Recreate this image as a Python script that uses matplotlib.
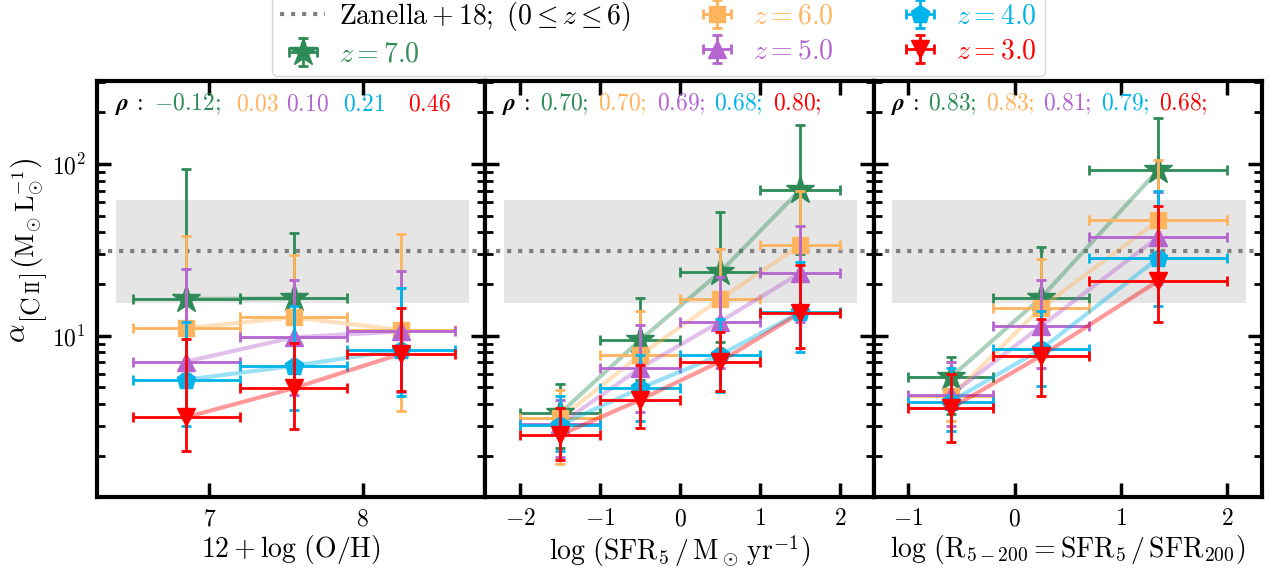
import numpy as np
import matplotlib
matplotlib.use("Agg")
import matplotlib.pyplot as plt
from matplotlib.ticker import LogLocator, NullFormatter, FixedLocator, NullLocator
from matplotlib.lines import Line2D
from matplotlib.transforms import IdentityTransform

plt.rcParams.update({
    'mathtext.fontset': 'cm',
    'font.family': 'serif',
    'font.serif': ['cmr10'],
    'axes.formatter.use_mathtext': True,
    'axes.unicode_minus': True,
})

# ---------------- data ----------------
redshifts = ['7.0', '6.0', '5.0', '4.0', '3.0']
colors = ['#2e8b57', '#ffb35c', '#b565d0', '#00b4ea', '#ff0000']
markers = ['*', 's', '^', 'p', 'v']
msizes = [21, 11.5, 13.5, 13.5, 13.5]

zanella_alpha = 31.0
zanella_dex = 0.3

# Panel 1: 12+log(O/H)
oh_x = [6.85, 7.55, 8.25]
oh_xerr = [0.35, 0.35, 0.35]
oh_y = [[16.4, 16.5], [11.1, 12.8, 10.8], [7.08, 9.8, 10.6], [5.55, 6.68, 8.29], [3.36, 4.95, 7.85]]
oh_hi = [[94.0, 39.6], [37.9, 29.5, 39.3], [24.4, 21.2, 23.7], [12.1, 15.0, 19.0], [9.6, 9.1, 14.5]]
oh_lo = [[6.0, 6.5], [3.76, 5.5, 3.67], [3.3, 4.5, 4.7], [2.97, 3.7, 4.43], [2.12, 2.87, 4.74]]
oh_rho = [r'$-0.12;$', r'$0.03$', r'$0.10$', r'$0.21$', r'$0.46$']

# Panel 2: log SFR5
sfr_x = [-1.5, -0.5, 0.5, 1.5]
sfr_xerr = [0.5, 0.5, 0.5, 0.5]
sfr_y = [[3.55, 9.48, 23.5, 70.8], [3.31, 7.74, 16.4, 33.6], [3.07, 6.49, 12.1, 23.2], [3.03, 4.95, 7.74, 13.7], [2.65, 4.24, 7.08, 13.6]]
sfr_hi = [[5.25, 16.7, 52.5, 168.0], [4.85, 13.9, 32.1, 70.0], [4.24, 11.5, 22.0, 43.4], [4.43, 7.7, 12.5, 26.8], [3.8, 6.8, 10.5, 26.0]]
sfr_lo = [[2.23, 5.5, 9.2, 30.0], [1.8, 4.2, 8.5, 15.0], [1.98, 3.6, 6.5, 12.0], [2.12, 3.21, 4.7, 8.0], [1.9, 2.9, 4.8, 8.47]]
sfr_rho = [r'$0.70;$', r'$0.70;$', r'$0.69;$', r'$0.68;$', r'$0.80;$']

# Panel 3: log R5-200
r_x = [-0.6, 0.25, 1.35]
r_xerr = [0.4, 0.45, 0.65]
r_y = [[5.74, 16.7, 92.3], [4.43, 14.6, 47.0], [4.53, 11.4, 37.6], [4.14, 8.36, 28.3], [3.79, 7.65, 20.9]]
r_hi = [[7.52, 33.1, 186.0], [7.0, 28.0, 106.0], [7.08, 21.2, 69.2], [6.5, 14.0, 70.0], [6.0, 12.5, 57.2]]
r_lo = [[3.5, 8.0, 45.0], [3.2, 7.5, 22.0], [3.0, 6.5, 20.0], [2.8, 5.1, 15.0], [2.39, 4.43, 12.1]]
r_rho = [r'$0.83;$', r'$0.83;$', r'$0.81;$', r'$0.79;$', r'$0.68;$']

panels = [
    dict(x=oh_x, xerr=oh_xerr, y=oh_y, hi=oh_hi, lo=oh_lo, rho=oh_rho,
         xlim=(6.266, 8.80), xticks=[7, 8],
         xlabel=r'$12+\log\,(\mathrm{O/H})$',
         rhox=[0.046, 0.147, 0.358, 0.487, 0.634, 0.802]),
    dict(x=sfr_x, xerr=sfr_xerr, y=sfr_y, hi=sfr_hi, lo=sfr_lo, rho=sfr_rho,
         xlim=(-2.44, 2.42), xticks=[-2, -1, 0, 1, 2],
         xlabel=r'$\log\,(\mathrm{SFR_5}\,/\,\mathrm{M_\odot\,yr^{-1}})$',
         rhox=[0.044, 0.142, 0.291, 0.441, 0.588, 0.742]),
    dict(x=r_x, xerr=r_xerr, y=r_y, hi=r_hi, lo=r_lo, rho=r_rho,
         xlim=(-1.326, 2.326), xticks=[-1, 0, 1, 2],
         xlabel=r'$\log\,(\mathrm{R_{5-200}}=\mathrm{SFR_5}\,/\,\mathrm{SFR_{200}})$',
         rhox=[0.044, 0.139, 0.289, 0.436, 0.585, 0.735]),
]

fig = plt.figure(figsize=(12.71, 5.69), dpi=100)
fig.subplots_adjust(left=0.0763, right=0.9929, top=0.8576, bottom=0.1265, wspace=0)
axes = fig.subplots(1, 3, sharey=True)

handles = []
for pi, (ax, P) in enumerate(zip(axes, panels)):
    ax.set_yscale('log')
    ax.axhspan(zanella_alpha / 10**zanella_dex, zanella_alpha * 10**zanella_dex,
               xmin=0.048, xmax=0.958, color='#e5e5e5', lw=0, zorder=0)
    ax.axhline(zanella_alpha, ls=':', color='#808080', lw=3, zorder=1)
    for k in range(len(redshifts)):
        y = np.array(P['y'][k])
        n = len(y)
        x = np.array(P['x'][:n])
        xe = np.array(P['xerr'][:n])
        hi = np.array(P['hi'][k])
        lo = np.array(P['lo'][k])
        ax.plot(x, y, color=colors[k], alpha=0.4, lw=3, zorder=2 + k)
        eb = ax.errorbar(x, y, xerr=xe, yerr=[y - lo, hi - y], fmt=markers[k],
                         color=colors[k], ms=msizes[k], elinewidth=2,
                         capsize=3.8, capthick=2, zorder=3 + k)
        if pi == 0:
            handles.append(eb)
    ax.set_xlim(*P['xlim'])
    ax.xaxis.set_major_locator(FixedLocator(P['xticks']))
    ax.xaxis.set_minor_locator(NullLocator())
    ax.set_ylim(1.15, 305)
    ax.yaxis.set_major_locator(LogLocator(base=10))
    ax.yaxis.set_minor_locator(LogLocator(base=10, subs=np.arange(2, 10)))
    ax.yaxis.set_minor_formatter(NullFormatter())
    ax.tick_params(which='both', direction='in', top=True, right=True, labelsize=17)
    ax.tick_params(which='major', length=10, width=2.5, pad=8)
    ax.tick_params(which='minor', length=6, width=2)
    for s in ax.spines.values():
        s.set_linewidth(3)
    ax.set_xlabel(P['xlabel'], fontsize=20, labelpad=2)
    # rho text
    ax.text(P['rhox'][0], 0.93, r'$\boldsymbol{\rho}\,\mathbf{:}$', transform=ax.transAxes,
            fontsize=17, va='baseline', ha='left', color='k')
    for k in range(5):
        ax.text(P['rhox'][k + 1], 0.93, P['rho'][k], transform=ax.transAxes,
                fontsize=17, va='baseline', ha='left', color=colors[k])

for ax in axes[1:]:
    ax.tick_params(labelleft=False)

# y label built from pieces (alpha, [C II] lowered, units)
renderer = fig.canvas.get_renderer()
H = fig.bbox.height
ylabel_pieces = [
    (r'$\alpha$', 21, 25, 0),
    (r'$[\mathrm{C}$', 18.5, 40, 0),
    (r'$\mathrm{II}$', 13.5, 40, 3),
    (r'$]$', 18.5, 40, 0),
    (r'$\left(\mathrm{M_{\odot}\,L_{\odot}^{-1}}\right)$', 19, 35, 4),
]
ycur = H - 343
for s, fs, xb, gap in ylabel_pieces:
    ycur += gap
    t = fig.text(xb, ycur, s, transform=IdentityTransform(), rotation=90,
                 rotation_mode='anchor', ha='left', va='baseline', fontsize=fs)
    bb = t.get_window_extent(renderer)
    ycur += bb.height

zline = Line2D([], [], ls=':', color='#808080', lw=3)
leg_handles = [zline] + handles
leg_labels = [r'$\mathrm{Zanella}+18;\ (0\leq z\leq 6)$'] + [r'$z = %s$' % z for z in redshifts]
leg = fig.legend(leg_handles, leg_labels, loc='lower center', bbox_to_anchor=(0.518, 0.862),
                 ncol=3, fontsize=20, frameon=True, borderaxespad=0.1, borderpad=0.3,
                 handlelength=1.6, handletextpad=0.5, columnspacing=2.3, labelspacing=0.3)
for t, c in zip(leg.get_texts(), ['k'] + colors):
    t.set_color(c)

fig.savefig('out.png', dpi=100)
